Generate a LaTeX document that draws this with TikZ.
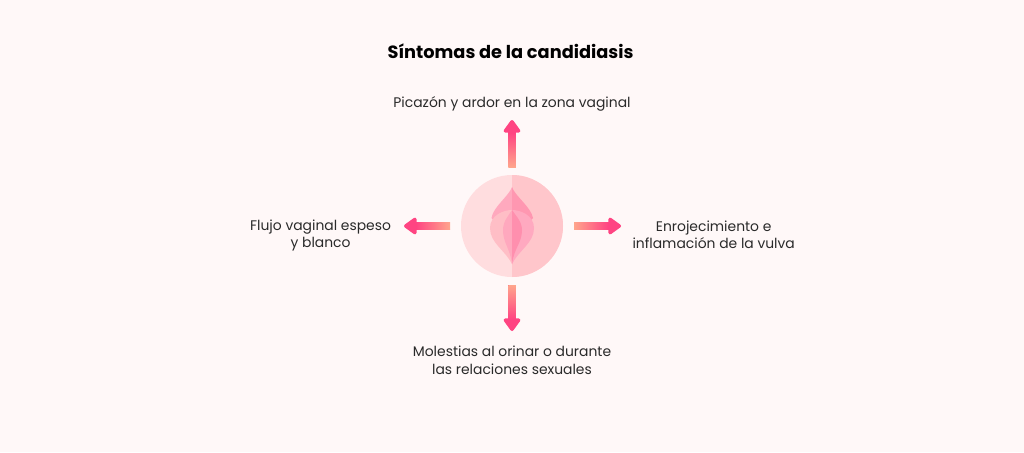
\documentclass[tikz,border=0pt]{standalone}
\usepackage{fontspec}
\setmainfont{Poppins}
\usetikzlibrary{positioning,calc,arrows.meta}
\definecolor{pagebg}{HTML}{FFF8F8}
\definecolor{discL}{HTML}{FFDDDF}
\definecolor{discR}{HTML}{FFC6CB}
\definecolor{leafL}{HTML}{FFA9BE}
\definecolor{leafR}{HTML}{FF97B1}
\definecolor{lobeL}{HTML}{FFBEC6}
\definecolor{lobeR}{HTML}{FFA9C0}
\definecolor{coreL}{HTML}{FFA8BE}
\definecolor{coreR}{HTML}{FF8FAE}
\definecolor{arrowhead}{HTML}{FF4482}
\definecolor{arrowtail}{HTML}{FFA58C}
\definecolor{textcol}{HTML}{2A2A2A}
\tikzset{
	pt/.style={inner sep=0pt,outer sep=0pt},
	label/.style={pt,align=center,text=textcol,font=\fontsize{13.9}{17.5}\selectfont},
	gradarrow/.style={draw=arrowhead,line width=7.5pt,-{Triangle[width=19pt,length=14pt,round]}},
}
% shaft drawn over the arrow, from tail colour to head colour
\newcommand{\gradarrow}[3]{
	\draw[gradarrow] (#1) -- (#2);
	\shade[bottom color=arrowtail,top color=arrowhead,shading angle=#3]
		($(#1)!3.75pt!90:(#2)$) -- ($(#1)!3.75pt!-90:(#2)$)
		-- ($($(#1)!34pt!(#2)$)!3.75pt!90:(#1)$) -- ($($(#1)!34pt!(#2)$)!3.75pt!-90:(#1)$) -- cycle;
}
\begin{document}
\begin{tikzpicture}[x=1pt,y=-1pt]
	\useasboundingbox (0,0) rectangle (1024,452);
	\fill[pagebg] (0,0) rectangle (1024,452);

	\node[pt,font=\fontsize{17.75}{20}\selectfont\bfseries] (title) at (510.5,51) {Síntomas de la candidiasis};

	\node[pt,circle,fill=discL,minimum size=102pt] (disc) at (512,226) {};
	\fill[discR] (disc.north) arc[start angle=90,end angle=-90,radius=51pt] -- cycle;

	% leaf
	\fill[leafL] (512,187) .. controls (509,196) and (493,207) .. (491.5,218) -- (512,240) -- cycle;
	\fill[leafR] (512,187) .. controls (515,196) and (531,207) .. (533,218) -- (512,240) -- cycle;
	% lobes
	\fill[lobeL] (512,264) .. controls (505,250) and (490,243) .. (490,228) .. controls (490,215) and (504,210) .. (512,210) -- cycle;
	\fill[lobeR] (512,264) .. controls (519,250) and (534,243) .. (534,228) .. controls (534,215) and (520,210) .. (512,210) -- cycle;
	% core
	\fill[coreL] (512,264) .. controls (510,248) and (503,243) .. (503,230) .. controls (503,221) and (509,215) .. (512,210) -- cycle;
	\fill[coreR] (512,264) .. controls (514,248) and (522,243) .. (522,230) .. controls (522,221) and (515,215) .. (512,210) -- cycle;

	\coordinate[above = 8pt of disc] (upS);
	\coordinate[above = 47pt of upS] (upE);
	\coordinate[below = 8pt of disc] (downS);
	\coordinate[below = 46pt of downS] (downE);
	\coordinate[left = 11pt of disc] (leftS);
	\coordinate[left = 46pt of leftS] (leftE);
	\coordinate[right = 11pt of disc] (rightS);
	\coordinate[right = 47pt of rightS] (rightE);

	\gradarrow{upS}{upE}{0}
	\gradarrow{downS}{downE}{180}
	\gradarrow{leftS}{leftE}{90}
	\gradarrow{rightS}{rightE}{270}

	\node[label] (lblUp) [above = 9pt of upE] {Picazón y ardor en la zona vaginal};
	\node[label] (lblDown) [below = 15pt of downE] {Molestias al orinar o durante\\las relaciones sexuales};
	\node[label] (lblLeft) [left = 13pt of leftE,yshift=-9.5pt] {Flujo vaginal espeso\\y blanco};
	\node[label] (lblRight) [right = 11.5pt of rightE,yshift=-9pt] {Enrojecimiento e\\inflamación de la vulva};
\end{tikzpicture}
\end{document}
